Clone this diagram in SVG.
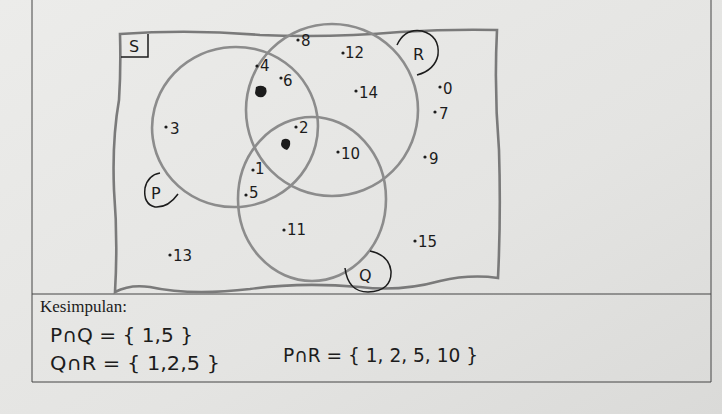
<svg xmlns="http://www.w3.org/2000/svg" width="722" height="414" viewBox="0 0 722 414">
<defs>
<linearGradient id="paper" x1="0" y1="0" x2="1" y2="1">
<stop offset="0" stop-color="#ececea"/>
<stop offset="0.6" stop-color="#e4e4e2"/>
<stop offset="1" stop-color="#dadad8"/>
</linearGradient>
<style>
.set{fill:none;stroke:#8c8c8c;stroke-width:2.6}
.frame{fill:none;stroke:#7a7a7a;stroke-width:2.6}
.ink{font-family:"DejaVu Sans",sans-serif;fill:#1c1c1c}
.num{font-size:15px}
.dot{fill:#1c1c1c}
.loop{fill:none;stroke:#1c1c1c;stroke-width:1.5}
.rule{stroke:#444;stroke-width:1;fill:none}
.lbl{font-size:16px}
.hand{font-size:19px}
</style>
</defs>
<rect x="0" y="0" width="722" height="414" fill="url(#paper)"/>
<g id="sheet">
<path class="rule" d="M32,0 V382 H711 V0"/>
<path class="rule" d="M32,294 H711"/>
</g>
<g id="universe-S">
<path class="frame" d="M120,34 Q190,29 260,35 Q330,38 400,32 Q450,29 497,30 Q494,90 499,150 Q501,215 498,278 Q470,274 440,281 Q400,292 360,287 Q300,282 250,289 Q190,296 150,287 Q130,284 115,292 Q118,240 114,190 Q112,140 119,100 Q121,70 120,34 Z"/>
<path class="loop" d="M121,57 L148,57 L148,34" stroke-width="1.6"/>
<text class="ink lbl" x="129" y="52" font-size="14">S</text>
</g>
<g id="set-P">
<ellipse class="set" cx="235" cy="127" rx="83" ry="80" transform="rotate(-8 235 127)"/>
<path class="loop" d="M178,194 Q168,208 155,207 Q143,204 145,188 Q148,175 160,173"/>
<text class="ink lbl" x="151" y="199">P</text>
</g>
<g id="set-R">
<ellipse class="set" cx="332" cy="110" rx="86" ry="86" stroke="#838383"/>
<path class="loop" d="M397,45 Q405,28 422,31 Q440,36 438,55 Q435,70 417,75"/>
<text class="ink lbl" x="413" y="60">R</text>
</g>
<g id="set-Q">
<ellipse class="set" cx="312" cy="199" rx="74" ry="82" stroke="#999"/>
<path class="loop" d="M345,268 Q348,292 368,292 Q392,291 391,271 Q389,255 370,251"/>
<text class="ink lbl" x="359" y="281">Q</text>
</g>
<g id="elements">
<circle class="dot" cx="298" cy="40" r="1.6"/><text class="ink num" x="301" y="46">8</text>
<circle class="dot" cx="343" cy="53" r="1.6"/><text class="ink num" x="345" y="58" font-size="12">12</text>
<circle class="dot" cx="257" cy="66" r="1.6"/><text class="ink num" x="260" y="71" font-size="12">4</text>
<circle class="dot" cx="281" cy="78" r="1.6"/><text class="ink num" x="283" y="86">6</text>
<circle class="dot" cx="356" cy="91" r="1.6"/><text class="ink num" x="359" y="98">14</text>
<circle class="dot" cx="440" cy="87" r="1.6"/><text class="ink num" x="443" y="94">0</text>
<circle class="dot" cx="435" cy="112" r="1.6"/><text class="ink num" x="439" y="119">7</text>
<circle class="dot" cx="166" cy="127" r="1.6"/><text class="ink num" x="170" y="134">3</text>
<circle class="dot" cx="296" cy="127" r="1.6"/><text class="ink num" x="299" y="133" font-size="13">2</text>
<circle class="dot" cx="338" cy="152" r="1.6"/><text class="ink num" x="341" y="159">10</text>
<circle class="dot" cx="425" cy="157" r="1.6"/><text class="ink num" x="429" y="164">9</text>
<circle class="dot" cx="253" cy="170" r="1.6"/><text class="ink num" x="255" y="174" font-size="12">1</text>
<circle class="dot" cx="246" cy="195" r="1.6"/><text class="ink num" x="249" y="198" font-size="13">5</text>
<circle class="dot" cx="284" cy="230" r="1.6"/><text class="ink num" x="287" y="235" font-size="12">11</text>
<circle class="dot" cx="415" cy="241" r="1.6"/><text class="ink num" x="418" y="247">15</text>
<circle class="dot" cx="170" cy="255" r="1.6"/><text class="ink num" x="173" y="261" font-size="13">13</text>
<path class="dot" d="M256,87 Q262,84 266,88 Q268,94 263,97 Q256,98 255,93 Z"/>
<path class="dot" d="M282,140 Q287,137 290,141 Q291,147 287,150 Q281,148 281,144 Z"/>
</g>
<g id="conclusion">
<text x="40" y="312" font-family="Liberation Serif,serif" font-size="17" fill="#1c1c1c">Kesimpulan:</text>
<text class="ink hand" x="50" y="342" textLength="143" lengthAdjust="spacingAndGlyphs">P∩Q  = { 1,5 }</text>
<text class="ink hand" x="50" y="370" textLength="170" lengthAdjust="spacingAndGlyphs">Q∩R  = { 1,2,5 }</text>
<text class="ink hand" x="283" y="362" textLength="195" lengthAdjust="spacingAndGlyphs">P∩R  = { 1, 2, 5, 10 }</text>
</g>
</svg>
